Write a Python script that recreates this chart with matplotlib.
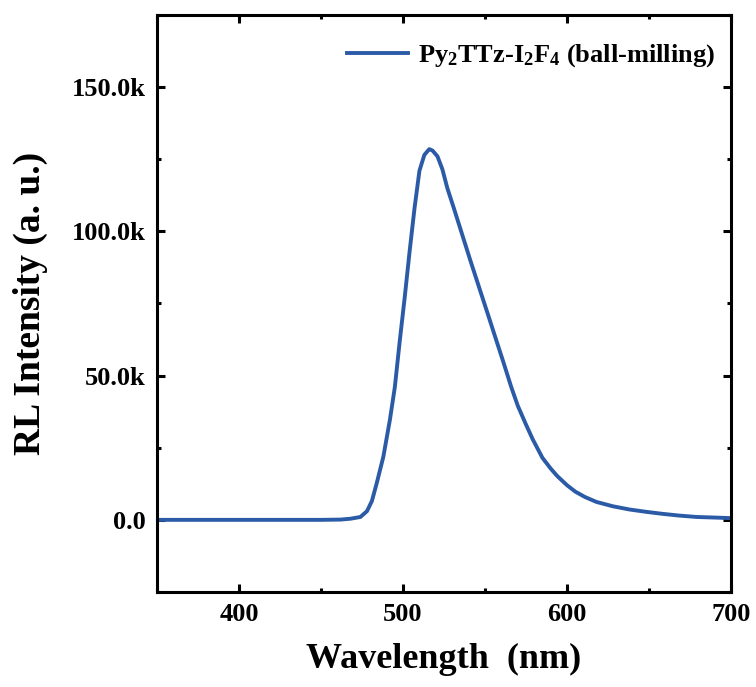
import matplotlib
matplotlib.use("Agg")
import matplotlib.pyplot as plt
from matplotlib.ticker import FuncFormatter, MultipleLocator

plt.rcParams.update({
    "font.family": "Liberation Serif",
    "font.weight": "bold",
    "mathtext.fontset": "custom",
    "mathtext.rm": "Liberation Serif:bold",
    "mathtext.it": "Liberation Serif:bold",
    "mathtext.bf": "Liberation Serif:bold",
})

LINE = "#2B5BA6"

# RL spectrum (nm, counts)
wavelength = [350, 400, 450, 462, 468, 474, 478, 481, 484, 488, 492, 495, 498,
              501, 504, 507, 510, 513, 516, 518, 521, 524, 527, 531, 536, 541,
              547, 552, 557, 561, 566, 570, 575, 579, 585, 590, 594, 600, 605,
              611, 618, 628, 638, 648, 658, 668, 679, 690, 700]
intensity_k = [0, 0, 0, 0.1, 0.4, 1.0, 3.0, 6.5, 12.8, 21.9, 34.7, 46, 62,
               77, 93, 108, 121, 126.5, 128.5, 128, 126, 121.5, 115, 108, 99, 90,
               79.5, 70.8, 62, 55, 46, 39.5, 33, 28, 21.5, 17.8, 15.2, 12.0, 9.8,
               7.9, 6.2, 4.7, 3.6, 2.8, 2.1, 1.5, 1.0, 0.8, 0.6]
intensity = [v * 1000 for v in intensity_k]

label = "Py$_2$TTz-I$_2$F$_4$ (ball-milling)"

fig = plt.figure(figsize=(7.56, 6.87), dpi=100)
ax = fig.add_axes([0.2077, 0.1383, 0.7593, 0.8399])

ax.plot(wavelength, intensity, color=LINE, linewidth=2.8, label=label)

ax.set_xlim(350, 700)
ax.set_ylim(-25000, 175000)
ax.xaxis.set_major_locator(MultipleLocator(100))
ax.xaxis.set_minor_locator(MultipleLocator(50))
ax.yaxis.set_major_locator(MultipleLocator(50000))
ax.yaxis.set_minor_locator(MultipleLocator(25000))


def kfmt(v, pos):
    if abs(v) < 1e-9:
        return "0.0"
    return f"{v / 1000:.1f}k"


ax.yaxis.set_major_formatter(FuncFormatter(kfmt))

for s in ax.spines.values():
    s.set_linewidth(2.2)
ax.tick_params(which="both", direction="in", top=True, right=True, width=2.2)
ax.tick_params(which="major", length=6, labelsize=19, pad=8)
ax.tick_params(which="minor", length=3)

ax.set_xlabel("Wavelength  (nm)", fontsize=26, fontweight="bold", labelpad=12)
ax.set_ylabel("RL Intensity (a. u.)", fontsize=27, fontweight="bold", labelpad=17)

ax.legend(loc="upper right", frameon=False, fontsize=19, handlelength=2.3,
          handletextpad=0.4, borderaxespad=0.2, bbox_to_anchor=(1.0, 0.98))

fig.savefig("out.png", dpi=100)
